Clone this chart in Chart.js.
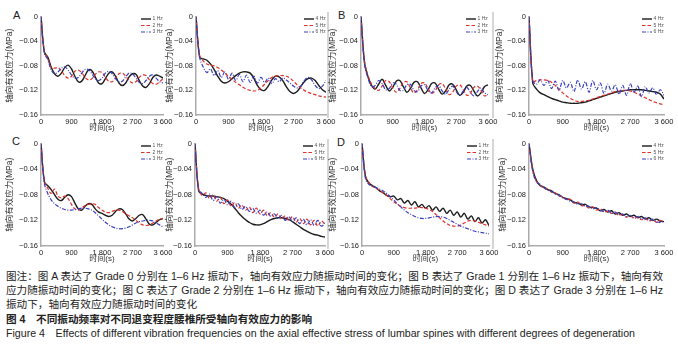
<!DOCTYPE html>
<html>
<head>
<meta charset="utf-8">
<script src="https://cdn.jsdelivr.net/npm/chart.js@4"></script>
<style>
body{margin:0;width:678px;height:350px;background:#fff;position:relative;overflow:hidden;font-family:"Liberation Sans","Noto Sans CJK SC",sans-serif;color:#222}
canvas{position:absolute}
.tag{position:absolute;font-size:11px;line-height:1}
.sep{position:absolute;width:2px;background:#d6d6d6}
.cap{position:absolute;left:6px;font-size:10.5px;white-space:nowrap;line-height:1;transform-origin:0 50%}
</style>
</head>
<body>
<div class="tag" style="left:13px;top:10px">A</div>
<div class="tag" style="left:338px;top:10px">B</div>
<div class="tag" style="left:12px;top:136px">C</div>
<div class="tag" style="left:337px;top:137px">D</div>
<div class="sep" style="left:327px;top:12px;height:106px"></div>
<div class="sep" style="left:492px;top:12px;height:106px"></div>
<div class="sep" style="left:327px;top:139px;height:110px"></div>
<div class="sep" style="left:492px;top:139px;height:110px"></div>

<div class="cap" style="top:271px" data-w="657">图注：图 A 表达了 Grade 0 分别在 1–6 Hz 振动下，轴向有效应力随振动时间的变化；图 B 表达了 Grade 1 分别在 1–6 Hz 振动下，轴向有效</div>
<div class="cap" style="top:285px" data-w="657">应力随振动时间的变化；图 C 表达了 Grade 2 分别在 1–6 Hz 振动下，轴向有效应力随振动时间的变化；图 D 表达了 Grade 3 分别在 1–6 Hz</div>
<div class="cap" style="top:299px" data-w="191">振动下，轴向有效应力随振动时间的变化</div>
<div class="cap" style="top:314px;font-weight:bold" data-w="306">图 4　不同振动频率对不同退变程度腰椎所受轴向有效应力的影响</div>
<div class="cap" style="top:328px" data-w="629">Figure 4　Effects of different vibration frequencies on the axial effective stress of lumbar spines with different degrees of degeneration</div>

<script>
// time axis (s), sampled every 100 s
const times=[0,100,200,300,400,500,600,700,800,900,1000,1100,1200,1300,1400,1500,1600,1700,1800,1900,2000,2100,2200,2300,2400,2500,2600,2700,2800,2900,3000,3100,3200,3300,3400,3500,3600];
const xTickValues=[0,900,1800,2700,3600];
const yTickValues=[0,-0.04,-0.08,-0.12,-0.16];
const lowFreqs=["1 Hz","2 Hz","3 Hz"];
const highFreqs=["4 Hz","5 Hz","6 Hz"];

// A : Grade 0
const A_1Hz=[0,-0.058,-0.066,-0.082,-0.093,-0.097,-0.092,-0.083,-0.079,-0.085,-0.097,-0.106,-0.105,-0.096,-0.087,-0.088,-0.098,-0.108,-0.109,-0.101,-0.092,-0.090,-0.097,-0.108,-0.112,-0.108,-0.098,-0.093,-0.094,-0.104,-0.113,-0.115,-0.109,-0.099,-0.095,-0.097,-0.100];
const A_2Hz=[0,-0.057,-0.068,-0.083,-0.084,-0.083,-0.088,-0.096,-0.100,-0.097,-0.089,-0.087,-0.091,-0.099,-0.103,-0.101,-0.094,-0.090,-0.091,-0.099,-0.105,-0.106,-0.100,-0.093,-0.092,-0.097,-0.104,-0.108,-0.106,-0.099,-0.095,-0.096,-0.103,-0.109,-0.110,-0.106,-0.101];
const A_3Hz=[0,-0.060,-0.070,-0.087,-0.093,-0.090,-0.084,-0.082,-0.087,-0.095,-0.100,-0.099,-0.092,-0.086,-0.086,-0.093,-0.101,-0.104,-0.100,-0.092,-0.089,-0.093,-0.101,-0.106,-0.105,-0.098,-0.092,-0.093,-0.100,-0.107,-0.109,-0.104,-0.097,-0.095,-0.100,-0.106,-0.108];
const A_4Hz=[0,-0.066,-0.069,-0.071,-0.077,-0.086,-0.097,-0.105,-0.108,-0.106,-0.101,-0.096,-0.092,-0.090,-0.090,-0.092,-0.100,-0.112,-0.119,-0.120,-0.113,-0.103,-0.097,-0.098,-0.104,-0.114,-0.122,-0.125,-0.122,-0.114,-0.106,-0.101,-0.100,-0.104,-0.112,-0.119,-0.123];
const A_5Hz=[0,-0.063,-0.072,-0.077,-0.079,-0.080,-0.083,-0.087,-0.092,-0.097,-0.102,-0.107,-0.111,-0.115,-0.118,-0.120,-0.121,-0.120,-0.116,-0.110,-0.104,-0.099,-0.097,-0.096,-0.096,-0.097,-0.100,-0.105,-0.111,-0.116,-0.120,-0.123,-0.125,-0.127,-0.129,-0.130,-0.131];
const A_6Hz=[0,-0.066,-0.082,-0.091,-0.085,-0.096,-0.088,-0.099,-0.090,-0.102,-0.092,-0.104,-0.094,-0.106,-0.095,-0.107,-0.097,-0.108,-0.099,-0.107,-0.100,-0.109,-0.101,-0.106,-0.100,-0.103,-0.108,-0.113,-0.116,-0.113,-0.104,-0.099,-0.103,-0.112,-0.117,-0.113,-0.104];

// B : Grade 1
const B_1Hz=[0,-0.075,-0.098,-0.112,-0.118,-0.110,-0.102,-0.112,-0.121,-0.115,-0.105,-0.104,-0.114,-0.123,-0.117,-0.107,-0.106,-0.116,-0.125,-0.119,-0.109,-0.108,-0.118,-0.126,-0.121,-0.111,-0.110,-0.119,-0.128,-0.123,-0.113,-0.112,-0.121,-0.129,-0.124,-0.114,-0.111];
const B_2Hz=[0,-0.073,-0.096,-0.110,-0.117,-0.120,-0.113,-0.104,-0.106,-0.116,-0.123,-0.117,-0.107,-0.106,-0.116,-0.124,-0.119,-0.109,-0.108,-0.117,-0.125,-0.121,-0.111,-0.109,-0.118,-0.127,-0.123,-0.113,-0.111,-0.119,-0.128,-0.125,-0.115,-0.113,-0.120,-0.129,-0.126];
const B_3Hz=[0,-0.078,-0.100,-0.114,-0.112,-0.104,-0.109,-0.119,-0.117,-0.108,-0.110,-0.120,-0.120,-0.111,-0.110,-0.120,-0.122,-0.113,-0.111,-0.120,-0.124,-0.116,-0.112,-0.121,-0.126,-0.118,-0.113,-0.122,-0.128,-0.121,-0.115,-0.123,-0.129,-0.122,-0.116,-0.124,-0.127];
const B_4Hz=[0,-0.108,-0.118,-0.124,-0.127,-0.130,-0.133,-0.135,-0.137,-0.139,-0.140,-0.141,-0.141,-0.141,-0.140,-0.139,-0.137,-0.135,-0.133,-0.131,-0.129,-0.127,-0.125,-0.123,-0.122,-0.121,-0.120,-0.119,-0.119,-0.119,-0.119,-0.120,-0.121,-0.122,-0.123,-0.126,-0.134];
const B_5Hz=[0,-0.106,-0.104,-0.103,-0.103,-0.104,-0.107,-0.112,-0.118,-0.124,-0.129,-0.133,-0.136,-0.138,-0.138,-0.137,-0.136,-0.134,-0.132,-0.130,-0.128,-0.126,-0.124,-0.122,-0.121,-0.120,-0.120,-0.121,-0.123,-0.126,-0.129,-0.132,-0.135,-0.138,-0.140,-0.142,-0.143];
const B_6Hz=[0,-0.104,-0.110,-0.103,-0.112,-0.104,-0.117,-0.105,-0.120,-0.104,-0.116,-0.107,-0.122,-0.103,-0.118,-0.106,-0.123,-0.104,-0.119,-0.108,-0.125,-0.110,-0.121,-0.111,-0.126,-0.112,-0.128,-0.109,-0.123,-0.113,-0.130,-0.114,-0.124,-0.116,-0.127,-0.119,-0.128];

// C : Grade 2
const C_1Hz=[0,-0.060,-0.066,-0.072,-0.080,-0.087,-0.089,-0.084,-0.080,-0.083,-0.093,-0.102,-0.104,-0.098,-0.094,-0.095,-0.102,-0.107,-0.109,-0.112,-0.114,-0.112,-0.106,-0.102,-0.103,-0.110,-0.118,-0.121,-0.117,-0.112,-0.111,-0.118,-0.126,-0.127,-0.123,-0.119,-0.117];
const C_2Hz=[0,-0.058,-0.070,-0.078,-0.071,-0.082,-0.085,-0.082,-0.086,-0.095,-0.102,-0.104,-0.101,-0.097,-0.095,-0.094,-0.095,-0.100,-0.104,-0.107,-0.108,-0.106,-0.104,-0.104,-0.106,-0.110,-0.113,-0.116,-0.120,-0.124,-0.127,-0.128,-0.127,-0.124,-0.121,-0.118,-0.117];
const C_3Hz=[0,-0.062,-0.078,-0.088,-0.094,-0.098,-0.101,-0.103,-0.104,-0.104,-0.103,-0.102,-0.101,-0.101,-0.102,-0.104,-0.108,-0.113,-0.118,-0.123,-0.127,-0.130,-0.132,-0.133,-0.133,-0.132,-0.130,-0.127,-0.124,-0.122,-0.121,-0.120,-0.120,-0.121,-0.124,-0.127,-0.130];
const C_4Hz=[0,-0.074,-0.079,-0.081,-0.082,-0.082,-0.083,-0.084,-0.086,-0.090,-0.095,-0.101,-0.108,-0.114,-0.119,-0.123,-0.126,-0.127,-0.127,-0.125,-0.122,-0.119,-0.117,-0.116,-0.116,-0.117,-0.119,-0.122,-0.126,-0.130,-0.134,-0.137,-0.140,-0.142,-0.143,-0.145,-0.146];
const C_5Hz=[0,-0.070,-0.081,-0.077,-0.086,-0.080,-0.090,-0.084,-0.094,-0.088,-0.098,-0.092,-0.101,-0.096,-0.104,-0.099,-0.108,-0.101,-0.110,-0.104,-0.113,-0.108,-0.115,-0.110,-0.118,-0.113,-0.120,-0.114,-0.123,-0.117,-0.125,-0.118,-0.127,-0.120,-0.129,-0.121,-0.126];
const C_6Hz=[0,-0.072,-0.078,-0.084,-0.079,-0.089,-0.083,-0.093,-0.087,-0.096,-0.090,-0.100,-0.094,-0.103,-0.098,-0.106,-0.101,-0.109,-0.104,-0.112,-0.107,-0.114,-0.110,-0.117,-0.112,-0.120,-0.114,-0.122,-0.116,-0.125,-0.118,-0.127,-0.119,-0.128,-0.120,-0.129,-0.124];

// D : Grade 3
const D_1Hz=[0,-0.052,-0.062,-0.066,-0.069,-0.074,-0.077,-0.081,-0.083,-0.082,-0.088,-0.086,-0.093,-0.089,-0.096,-0.091,-0.099,-0.095,-0.101,-0.097,-0.104,-0.099,-0.106,-0.101,-0.109,-0.104,-0.112,-0.107,-0.115,-0.109,-0.118,-0.113,-0.122,-0.116,-0.124,-0.119,-0.128];
const D_2Hz=[0,-0.050,-0.061,-0.067,-0.070,-0.073,-0.077,-0.081,-0.086,-0.091,-0.095,-0.098,-0.100,-0.101,-0.101,-0.101,-0.100,-0.100,-0.101,-0.103,-0.106,-0.111,-0.116,-0.121,-0.125,-0.128,-0.129,-0.129,-0.127,-0.124,-0.121,-0.120,-0.121,-0.123,-0.125,-0.127,-0.129];
const D_3Hz=[0,-0.055,-0.064,-0.067,-0.069,-0.071,-0.074,-0.078,-0.083,-0.088,-0.094,-0.099,-0.104,-0.108,-0.111,-0.114,-0.116,-0.117,-0.117,-0.116,-0.115,-0.114,-0.114,-0.115,-0.117,-0.120,-0.123,-0.126,-0.129,-0.131,-0.133,-0.135,-0.137,-0.138,-0.139,-0.140,-0.141];
const D_4Hz=[0,-0.040,-0.058,-0.066,-0.068,-0.072,-0.074,-0.078,-0.080,-0.084,-0.086,-0.088,-0.092,-0.093,-0.096,-0.095,-0.099,-0.100,-0.101,-0.105,-0.103,-0.107,-0.105,-0.110,-0.108,-0.112,-0.110,-0.114,-0.112,-0.116,-0.114,-0.118,-0.116,-0.120,-0.118,-0.121,-0.122];
const D_5Hz=[0,-0.042,-0.059,-0.065,-0.070,-0.071,-0.076,-0.077,-0.082,-0.083,-0.088,-0.087,-0.093,-0.091,-0.097,-0.097,-0.101,-0.099,-0.104,-0.102,-0.107,-0.106,-0.109,-0.108,-0.112,-0.111,-0.115,-0.113,-0.117,-0.115,-0.119,-0.117,-0.121,-0.119,-0.123,-0.120,-0.123];
const D_6Hz=[0,-0.044,-0.060,-0.064,-0.069,-0.073,-0.075,-0.079,-0.081,-0.085,-0.087,-0.090,-0.091,-0.095,-0.094,-0.098,-0.098,-0.102,-0.100,-0.104,-0.106,-0.104,-0.109,-0.107,-0.111,-0.110,-0.114,-0.112,-0.116,-0.114,-0.118,-0.116,-0.120,-0.118,-0.122,-0.123,-0.121];

const lineColors=["#1c1c1c","#e0302a","#3a3fbf"];
const lineDashes=[[],[3.5,2],[4,1.5,1,1.5]];
const lineWidths=[1.4,1.2,1.2];

// ax = y axis x, right = x of 3600, top/bottom = y of 0 / -0.16, yw = y scale width
const panels=[
  {ax:41,right:163,top:14,bottom:115,yw:38,names:lowFreqs,series:[A_1Hz,A_2Hz,A_3Hz]},
  {ax:196,right:326,top:14,bottom:115,yw:33,names:highFreqs,series:[A_4Hz,A_5Hz,A_6Hz]},
  {ax:361,right:488,top:14,bottom:115,yw:35,names:lowFreqs,series:[B_1Hz,B_2Hz,B_3Hz]},
  {ax:529,right:664,top:14,bottom:115,yw:36,names:highFreqs,series:[B_4Hz,B_5Hz,B_6Hz]},
  {ax:41,right:163,top:141,bottom:246,yw:38,names:lowFreqs,series:[C_1Hz,C_2Hz,C_3Hz]},
  {ax:195,right:325,top:141,bottom:246,yw:32,names:highFreqs,series:[C_4Hz,C_5Hz,C_6Hz]},
  {ax:362,right:489,top:141,bottom:246,yw:36,names:lowFreqs,series:[D_1Hz,D_2Hz,D_3Hz]},
  {ax:529,right:664,top:141,bottom:246,yw:33,names:highFreqs,series:[D_4Hz,D_5Hz,D_6Hz]}
];

const FONT='"Liberation Sans","Noto Sans CJK SC",sans-serif';

// small legend drawn in the top right corner of the plot
const miniLegend={
  id:'miniLegend',
  afterDatasetsDraw(chart){
    const ctx=chart.ctx, area=chart.chartArea;
    chart.data.datasets.forEach((ds,i)=>{
      const y=area.top+2.5+i*6.5;
      const x0=area.right-22;
      ctx.save();
      ctx.strokeStyle=ds.borderColor;
      ctx.lineWidth=ds.borderWidth;
      ctx.setLineDash(ds.borderDash);
      ctx.beginPath();ctx.moveTo(x0,y);ctx.lineTo(x0+10,y);ctx.stroke();
      ctx.setLineDash([]);
      ctx.fillStyle='#555';
      ctx.font='5px '+FONT;
      ctx.textBaseline='middle';
      ctx.fillText(ds.label,x0+11.5,y);
      ctx.restore();
    });
  }
};

function fmtX(v){
  return v>=1000 ? String(v).replace(/(\d)(\d{3})$/,'$1 $2') : String(v);
}
function fmtY(v){
  if(Math.abs(v)<1e-9) return '0';
  return '\u2212'+Math.abs(v).toFixed(2);
}

panels.forEach(p=>{
  const cv=document.createElement('canvas');
  const w=p.right-p.ax+p.yw+12;
  const h=p.bottom-p.top+5+20;
  cv.width=w;cv.height=h;
  cv.style.left=(p.ax-p.yw)+'px';
  cv.style.top=(p.top-5)+'px';
  cv.style.width=w+'px';cv.style.height=h+'px';
  document.body.appendChild(cv);

  new Chart(cv,{
    type:'line',
    data:{
      labels:times,
      datasets:p.series.map((s,i)=>({
        label:p.names[i],
        data:s,
        order:2-i,
        borderColor:lineColors[i],
        borderDash:lineDashes[i],
        borderWidth:lineWidths[i],
        pointRadius:0,
        tension:0.35,
        fill:false
      }))
    },
    options:{
      responsive:false,
      animation:false,
      devicePixelRatio:1,
      layout:{padding:{top:5,right:12,left:0,bottom:0}},
      plugins:{legend:{display:false},tooltip:{enabled:false}},
      scales:{
        x:{
          type:'linear',min:0,max:3600,
          grid:{display:false,drawTicks:false},
          border:{display:true,color:'#ababab',width:1.5},
          afterBuildTicks:s=>{s.ticks=xTickValues.map(v=>({value:v}));},
          afterFit:s=>{s.height=20;},
          ticks:{padding:2,maxRotation:0,autoSkip:false,color:'#222',font:{family:FONT,size:7.5},callback:v=>fmtX(v)},
          title:{display:true,text:'时间(s)',color:'#333',font:{family:FONT,size:8},padding:{top:0,bottom:2}}
        },
        y:{
          min:-0.16,max:0,
          grid:{display:false,drawTicks:false},
          border:{display:true,color:'#ababab',width:1.5},
          afterBuildTicks:s=>{s.ticks=yTickValues.map(v=>({value:v}));},
          afterFit:s=>{s.width=p.yw;},
          ticks:{padding:3,color:'#222',font:{family:FONT,size:7.5},callback:v=>fmtY(v)},
          title:{display:true,text:'轴向有效应力(MPa)',color:'#333',font:{family:FONT,size:8.5},padding:{top:2,bottom:0}}
        }
      }
    },
    plugins:[miniLegend]
  });
});

// fit caption lines to the widths seen in the figure
document.querySelectorAll('.cap').forEach(el=>{
  const target=+el.dataset.w;
  const actual=el.getBoundingClientRect().width;
  if(actual>0) el.style.transform='scaleX('+(target/actual)+')';
});
</script>
</body>
</html>
